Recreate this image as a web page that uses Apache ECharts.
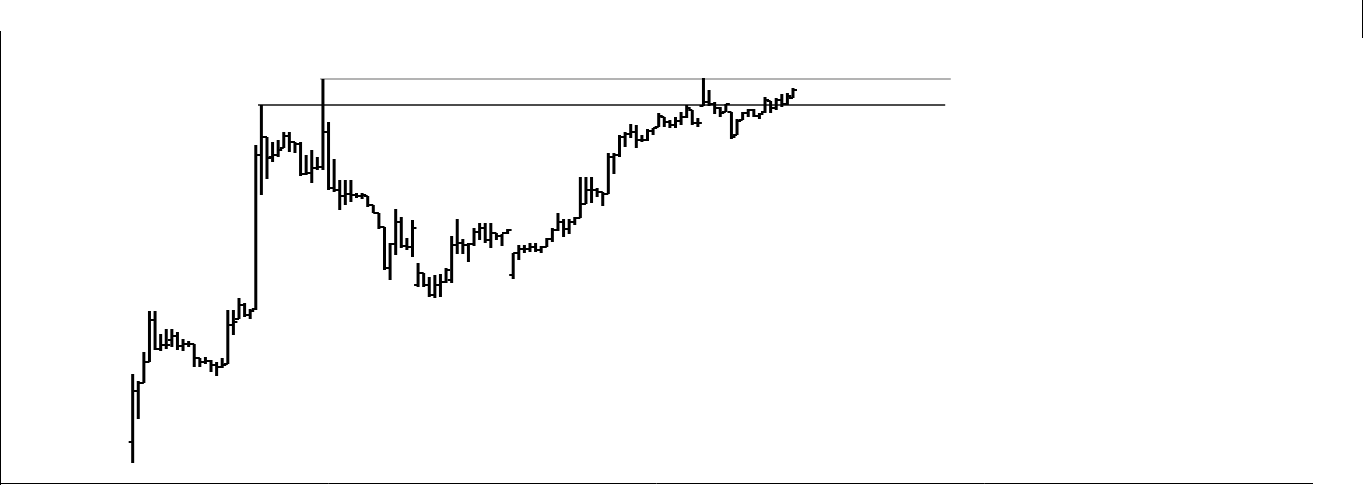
<!DOCTYPE html>
<html>
<head>
<meta charset="utf-8">
<script src="https://cdn.jsdelivr.net/npm/echarts@6/dist/echarts.min.js"></script>
<style>html,body{margin:0;padding:0;background:#fff;}#c{width:1364px;height:485px;}</style>
</head>
<body>
<div id="c"></div>
<script>
// OHLC values (price units), one entry per bar
var opens  = [58,109,117,138,180,151,155,160,164,154,156,156,142,138,139,135,133,136,175,181,195,185,191,345,363,343,345,352,364,358,356,326,327,332,333,368,312,310,304,306,305,304,304,295,287,273,232,256,278,254,253,215,227,215,205,215,218,220,255,257,255,256,268,272,260,267,264,267,225,247,251,251,253,250,253,261,270,278,271,278,282,296,310,310,308,306,343,345,363,366,368,360,360,369,373,383,378,375,379,383,390,377,394,398,396,392,388,388,365,380,387,390,384,388,399,392,400,396,402];
var closes = [109,117,138,180,151,155,155,164,154,156,156,142,138,139,135,133,135,175,178,195,185,189,345,363,342,345,350,364,358,356,326,327,332,333,368,312,310,304,306,305,304,305,295,287,273,232,256,278,254,253,272,227,215,205,215,218,230,255,257,255,256,268,272,260,267,264,267,270,247,251,251,253,250,253,261,270,278,271,278,282,296,310,310,308,306,343,345,363,366,368,360,360,369,372,384,378,375,379,383,392,377,377,398,396,392,387,396,363,379,387,390,384,386,400,392,400,396,404,410];
var lows   = [37,81,117,138,150,149,151,153,150,149,153,133,133,136,128,124,132,136,165,181,183,181,190,305,321,338,343,352,348,347,324,325,317,330,330,310,308,290,295,298,302,301,293,287,271,230,220,245,252,250,243,213,213,203,202,203,217,217,246,246,238,254,260,257,252,260,254,266,221,240,247,248,248,247,253,258,269,263,266,275,282,296,297,303,294,306,326,343,353,362,352,358,359,365,373,373,372,372,375,382,375,373,394,394,386,383,388,361,365,380,383,383,381,387,387,390,393,395,402];
var highs  = [126,119,148,189,189,166,171,171,168,161,159,156,142,143,140,138,142,190,190,202,197,191,355,395,363,358,360,368,368,358,358,345,350,343,421,378,341,320,320,320,307,307,304,295,287,273,257,291,283,262,280,237,227,223,225,226,232,264,281,261,257,272,277,277,277,267,266,271,247,255,255,257,257,254,262,272,287,281,281,283,323,323,323,312,308,347,347,365,368,376,375,365,371,372,387,383,380,383,388,395,390,382,422,410,398,393,396,388,381,388,391,391,387,403,399,402,406,407,412];

// Horizontal resistance levels: price, start bar index, end bar index
var levelValues = [421, 395];
var levelFrom   = [33.5, 22.4];
var levelTo     = [146.2, 145.2];
var levelColors = ['#9a9a9a', '#111111'];

var ohlc = opens.map(function (o, i) { return [i, o, closes[i], lows[i], highs[i]]; });

var levelSeries = levelValues.map(function (v, k) {
  return {
    type: 'line',
    data: [[levelFrom[k], v], [levelTo[k], v]],
    symbol: 'none',
    silent: true,
    lineStyle: { color: levelColors[k], width: 1.5 },
    z: 1
  };
});

var chart = echarts.init(document.getElementById('c'), null, { renderer: 'canvas' });
chart.setOption({
  backgroundColor: '#ffffff',
  animation: false,
  grid: { left: 0, right: 0, top: 0, bottom: 0 },
  xAxis: { type: 'value', min: -23.71, max: 220.04, show: false },
  yAxis: { type: 'value', min: 15, max: 500, show: false },
  graphic: [
    { type: 'line', shape: { x1: 0.5, y1: 31, x2: 0.5, y2: 485 }, style: { stroke: '#000', lineWidth: 1 } },
    { type: 'line', shape: { x1: 0, y1: 483.5, x2: 1313, y2: 483.5 }, style: { stroke: '#000', lineWidth: 1 } },
    { type: 'line', shape: { x1: 1362.5, y1: 0, x2: 1362.5, y2: 38 }, style: { stroke: '#000', lineWidth: 1 } }
  ],
  series: levelSeries.concat([{
    type: 'custom',
    data: ohlc,
    z: 2,
    encode: { x: 0, y: [1, 2, 3, 4] },
    renderItem: function (params, api) {
      var i = api.value(0);
      var o = api.coord([i, api.value(1)]);
      var c = api.coord([i, api.value(2)]);
      var l = api.coord([i, api.value(3)]);
      var h = api.coord([i, api.value(4)]);
      var t = 4;
      return {
        type: 'group',
        children: [
          { type: 'line', shape: { x1: h[0], y1: h[1], x2: l[0], y2: l[1] }, style: { stroke: '#000', lineWidth: 3 } },
          { type: 'line', shape: { x1: o[0] - t, y1: o[1], x2: o[0], y2: o[1] }, style: { stroke: '#000', lineWidth: 2 } },
          { type: 'line', shape: { x1: c[0], y1: c[1], x2: c[0] + t, y2: c[1] }, style: { stroke: '#000', lineWidth: 2 } }
        ]
      };
    }
  }])
});
</script>
</body>
</html>
